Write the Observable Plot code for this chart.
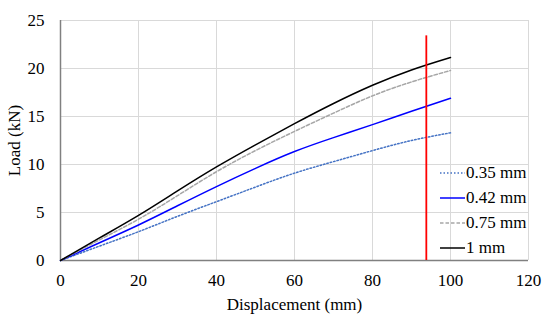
<!DOCTYPE html>
<html><head><meta charset="utf-8">
<script src="https://cdn.jsdelivr.net/npm/d3@7"></script>
<script src="https://cdn.jsdelivr.net/npm/@observablehq/plot@0.6"></script>
<style>
html,body{margin:0;padding:0;background:#fff;}
#wrap{position:relative;width:550px;height:321px;font-family:'Liberation Serif';}
#wrap svg, #wrap svg text{font-family:'Liberation Serif' !important;}
#legend{position:absolute;left:440px;top:160px;font-size:17px;line-height:25px;color:#000;font-family:'Liberation Serif';}
#legend div{display:flex;align-items:center;height:25px;}
#legend svg{margin-right:1px;}
</style></head>
<body><div id="wrap"><div id="legend"></div></div>
<script>
const displacement = [0, 10, 20, 30, 40, 50, 60, 70, 80, 90, 100];
const series = ["0.35 mm", "0.42 mm", "0.75 mm", "1 mm"];
const load035 = [0, 1.5, 3.0, 4.6, 6.13, 7.65, 9.1, 10.3, 11.45, 12.5, 13.3];
const load042 = [0, 1.85, 3.7, 5.7, 7.7, 9.6, 11.35, 12.8, 14.15, 15.55, 16.9];
const load075 = [0, 2.15, 4.3, 6.75, 9.25, 11.45, 13.45, 15.35, 17.15, 18.6, 19.8];
const load1 = [0, 2.35, 4.7, 7.25, 9.75, 12.05, 14.25, 16.35, 18.25, 19.85, 21.15];
const markerX = [93.8];
const markerTop = [23.4];
const xTicks = [0, 20, 40, 60, 80, 100, 120];
const yTicks = [0, 5, 10, 15, 20, 25];

const styles = {
  "0.35 mm": {stroke: "#4472c4", dash: "1.5,2", width: 1.5},
  "0.42 mm": {stroke: "#0000ff", dash: null, width: 1.5},
  "0.75 mm": {stroke: "#a6a6a6", dash: "3.5,2", width: 1.5},
  "1 mm": {stroke: "#000000", dash: null, width: 1.5}
};
const values = [load035, load042, load075, load1];
const lineMarks = series.map((s, i) => {
  const data = displacement.map((d, j) => ({x: d, y: values[i][j]}));
  const st = styles[s];
  return Plot.line(data, {x: "x", y: "y", stroke: st.stroke, strokeWidth: st.width, strokeDasharray: st.dash, curve: "natural"});
});

const FONT = "Liberation Serif";
const chart = Plot.plot({
  width: 550, height: 321,
  marginLeft: 60, marginRight: 22, marginTop: 20, marginBottom: 61,
  style: {fontFamily: FONT, fontSize: "17px", color: "#000", background: "#fff"},
  x: {domain: [0, 120], ticks: xTicks, label: null},
  y: {domain: [0, 25], ticks: yTicks, label: null},
  marks: [
    Plot.gridX(xTicks, {stroke: "#d9d9d9", strokeOpacity: 1}),
    Plot.gridY(yTicks, {stroke: "#d9d9d9", strokeOpacity: 1}),
    Plot.axisX(xTicks, {tickSize: 0, tickPadding: 13, fontSize: 17, fontFamily: FONT, label: "Displacement (mm)", labelAnchor: "center", labelOffset: 49, labelArrow: "none"}),
    Plot.axisY(yTicks, {tickSize: 0, tickPadding: 16, fontSize: 17, fontFamily: FONT, label: "Load (kN)", labelAnchor: "center", labelOffset: 53, labelArrow: "none"}),
    Plot.ruleY([0], {stroke: "#808080", strokeWidth: 1.5}),
    Plot.ruleX([0], {stroke: "#808080", strokeWidth: 1.5}),
    ...lineMarks,
    Plot.ruleX(markerX, {y1: 0, y2: markerTop[0], stroke: "#ff0000", strokeWidth: 1.8})
  ]
});
document.getElementById("wrap").prepend(chart);

const legend = document.getElementById("legend");
series.forEach(s => {
  const st = styles[s];
  const row = document.createElement("div");
  row.innerHTML = `<svg width="25" height="4"><line x1="0" x2="25" y1="2" y2="2" stroke="${st.stroke}" stroke-width="${st.width}" ${st.dash ? `stroke-dasharray="${st.dash}"` : ""}/></svg><span>${s}</span>`;
  legend.appendChild(row);
});
</script></body></html>
